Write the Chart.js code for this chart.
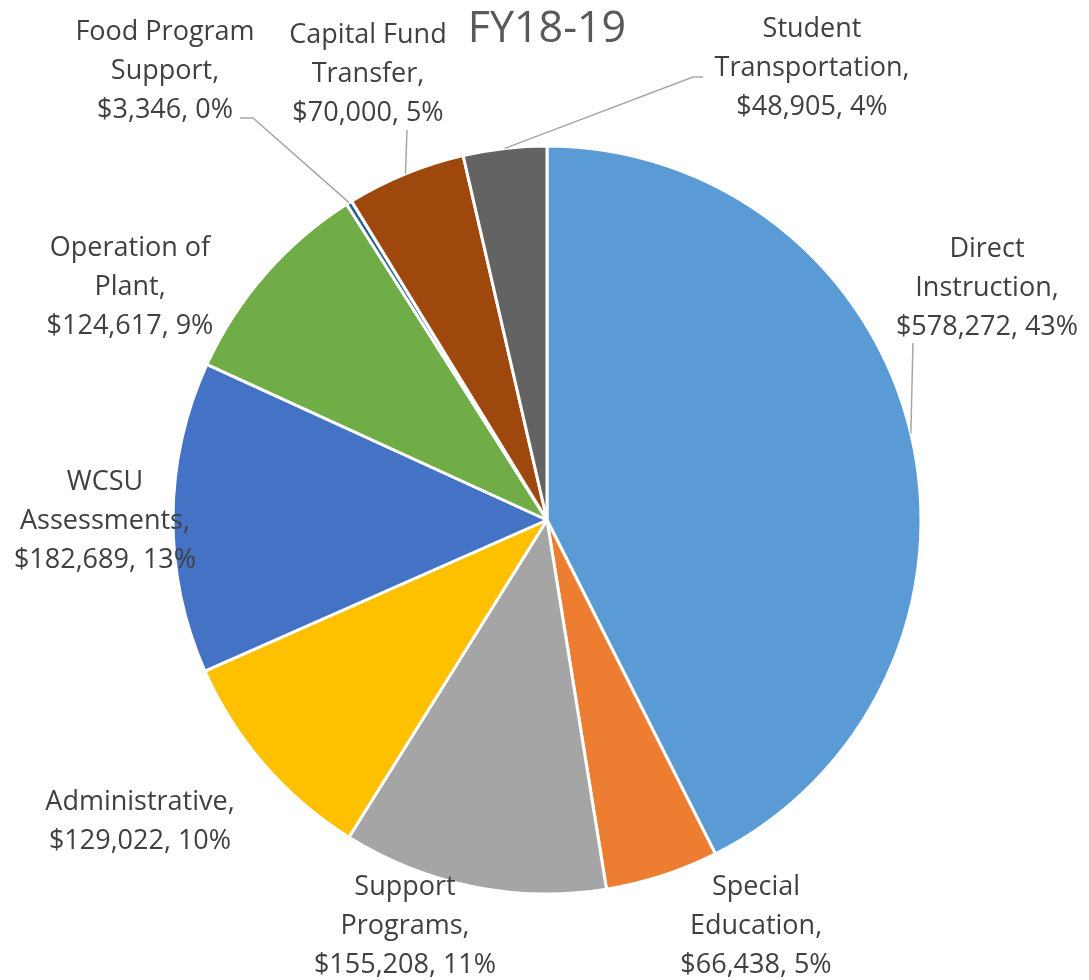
<!DOCTYPE html>
<html>
<head>
<meta charset="utf-8">
<script src="https://cdn.jsdelivr.net/npm/chart.js@4"></script>
<style>
  body { margin: 0; background: #fff; }
  canvas { display: block; }
</style>
</head>
<body>
<canvas id="pieChart" width="1089" height="980"></canvas>
<script>
// 데이터
const categories = ['Direct Instruction', 'Special Education', 'Support Programs', 'Administrative',
  'WCSU Assessments', 'Operation of Plant', 'Food Program Support', 'Capital Fund Transfer', 'Student Transportation'];
const amounts = [578272, 66438, 155208, 129022, 182689, 124617, 3346, 70000, 48905];
// percentages as printed on the chart
const percents = [43, 5, 11, 10, 13, 9, 0, 5, 4];
const sliceColors = ['#5B9BD5', '#ED7D31', '#A5A5A5', '#FFC000', '#4472C4', '#70AD47', '#255E91', '#9E480E', '#636363'];
// label text lines (category split the way the reference wraps it)
const labelLines = [
  ['Direct', 'Instruction,'],
  ['Special', 'Education,'],
  ['Support', 'Programs,'],
  ['Administrative,'],
  ['WCSU', 'Assessments,'],
  ['Operation of', 'Plant,'],
  ['Food Program', 'Support,'],
  ['Capital Fund', 'Transfer,'],
  ['Student', 'Transportation,']
];

// 라벨 위치 (x center, first baseline) + leader line points
const labelLayout = [
  { x: 987, y: 257, leader: [[913, 343]] },
  { x: 756, y: 895 },
  { x: 405, y: 895 },
  { x: 140, y: 810 },
  { x: 105, y: 490 },
  { x: 130, y: 256 },
  { x: 165, y: 40, leader: [[253, 118], [240, 118]] },
  { x: 368, y: 43, leader: [[407, 130]] },
  { x: 812, y: 37, leader: [[693, 77], [703, 77]] }
];

const fmt = v => '$' + v.toLocaleString('en-US');

const labelPlugin = {
  id: 'outLabels',
  afterDraw(chart) {
    const ctx = chart.ctx;
    const meta = chart.getDatasetMeta(0);
    const data = chart.data.datasets[0].data;
    ctx.save();

    // title
    ctx.fillStyle = '#595959';
    ctx.font = '43px "Open Sans"';
    ctx.textAlign = 'center';
    ctx.textBaseline = 'alphabetic';
    ctx.fillText('FY18-19', 547, 42);

    // leader lines
    ctx.strokeStyle = '#A6A6A6';
    ctx.lineWidth = 1.5;
    meta.data.forEach((arc, i) => {
      const lay = labelLayout[i];
      if (!lay.leader) return;
      const { x, y, startAngle, endAngle, outerRadius } = arc.getProps(['x', 'y', 'startAngle', 'endAngle', 'outerRadius'], true);
      const mid = (startAngle + endAngle) / 2;
      ctx.beginPath();
      ctx.moveTo(x + Math.cos(mid) * outerRadius, y + Math.sin(mid) * outerRadius);
      lay.leader.forEach(p => ctx.lineTo(p[0], p[1]));
      ctx.stroke();
    });

    // labels
    ctx.fillStyle = '#404040';
    ctx.font = '27px "Open Sans"';
    data.forEach((v, i) => {
      const lay = labelLayout[i];
      const lines = labelLines[i].concat([fmt(v) + ', ' + percents[i] + '%']);
      lines.forEach((t, k) => ctx.fillText(t, lay.x, lay.y + k * 39));
    });
    ctx.restore();
  }
};

new Chart(document.getElementById('pieChart'), {
  type: 'pie',
  data: {
    labels: categories,
    datasets: [{
      data: amounts,
      backgroundColor: sliceColors,
      borderColor: '#ffffff',
      borderWidth: 3
    }]
  },
  options: {
    responsive: false,
    animation: false,
    layout: { padding: { left: 171.5, right: 166.5, top: 144.5, bottom: 84.5 } },
    plugins: {
      legend: { display: false },
      tooltip: { enabled: false }
    }
  },
  plugins: [labelPlugin]
});
</script>
</body>
</html>
